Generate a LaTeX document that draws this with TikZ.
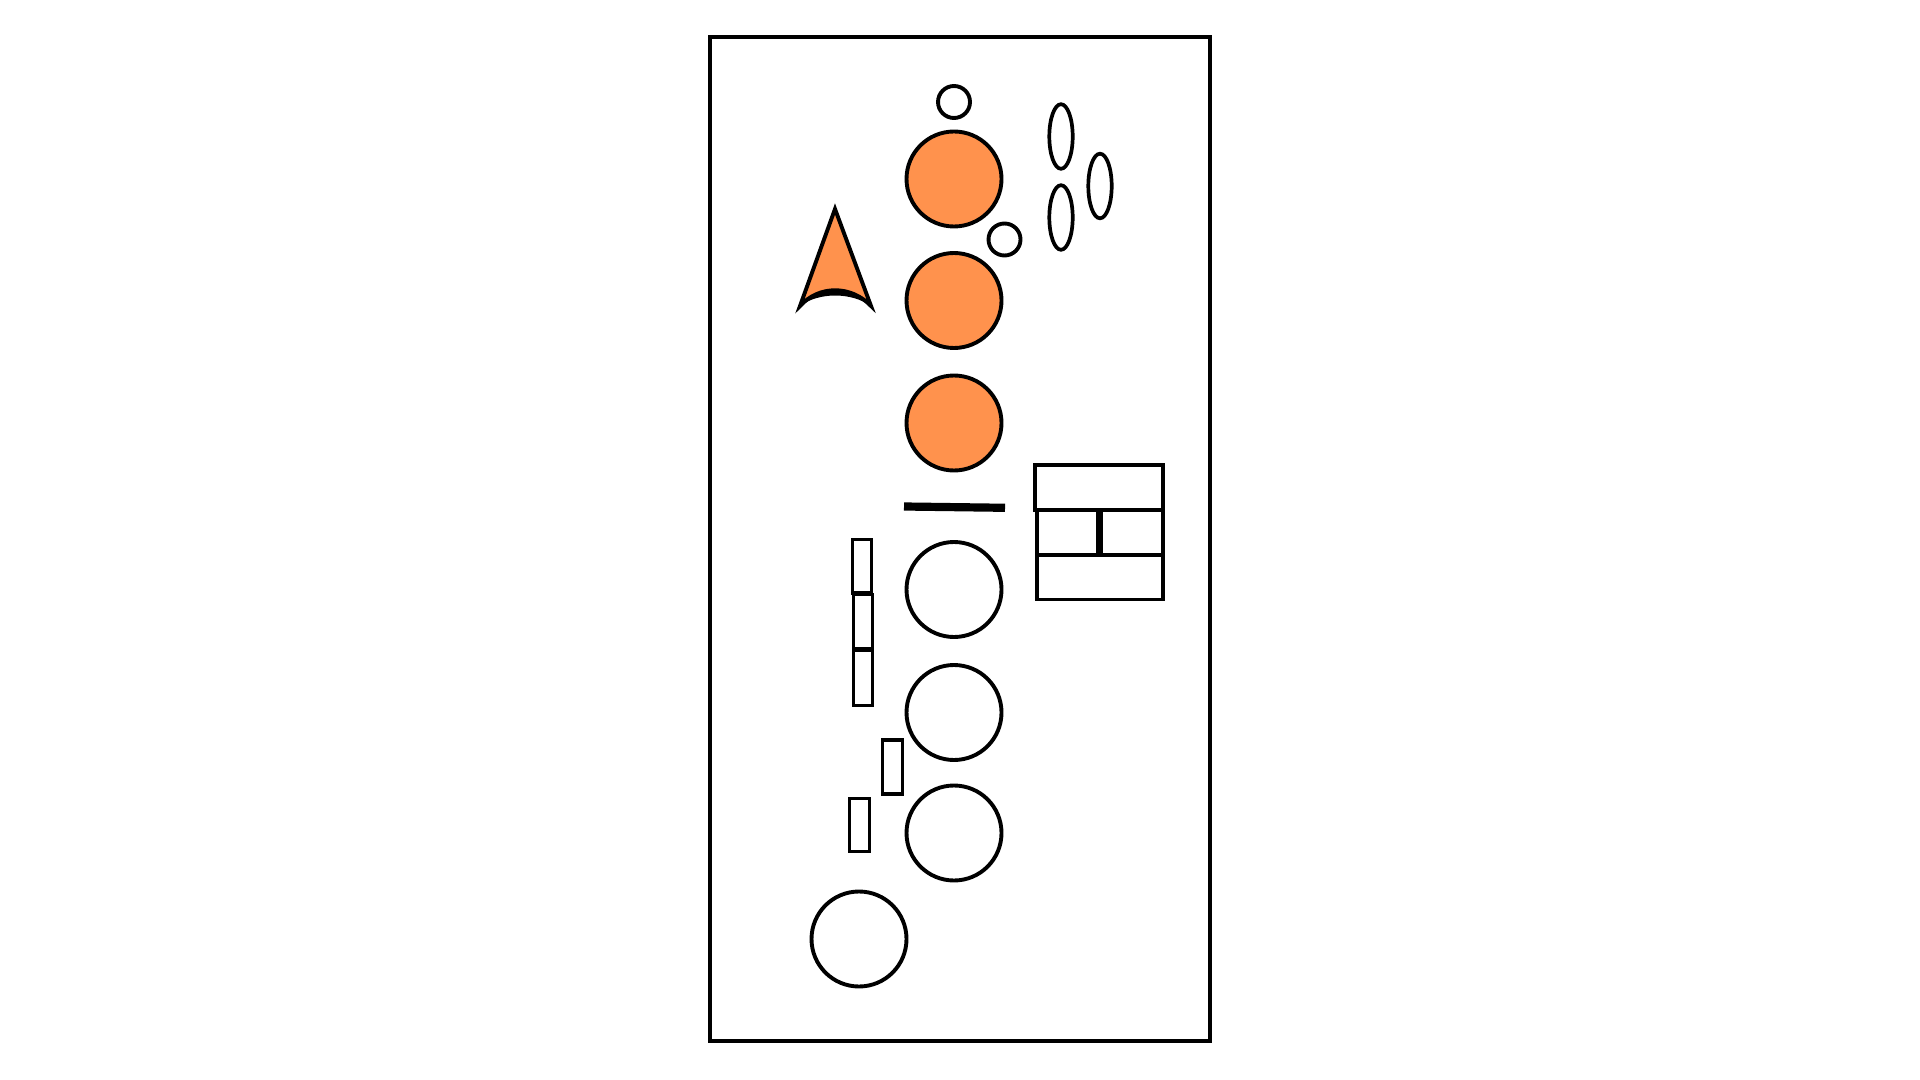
\documentclass[tikz,border=0pt]{standalone}
\definecolor{orangefill}{RGB}{255,146,77}
\begin{document}
\begin{tikzpicture}[x=0.5pt,y=-0.5pt,
  lw/.style={line width=1.95pt},
  thinlw/.style={line width=1.85pt},
  orangeshape/.style={lw,draw=black,fill=orangefill},
  whiteshape/.style={lw,draw=black,fill=white},
  boxshape/.style={thinlw,draw=black}]
\useasboundingbox (0,0) rectangle (1920,1080);
% frame
\draw[line width=2.1pt] (710,37) rectangle (1210,1041);
% small circles
\draw[whiteshape] (954,102) circle[radius=16];
\draw[whiteshape] (1004.5,239.5) circle[radius=16];
% orange circles
\draw[orangeshape] (954,179) circle[radius=47.5];
\draw[orangeshape] (954,300.5) circle[radius=47.5];
\draw[orangeshape] (954,423) circle[radius=47.5];
% ellipses
\draw[thinlw] (1061,136.5) ellipse[x radius=11.7,y radius=32.3];
\draw[thinlw] (1061,217.5) ellipse[x radius=11.7,y radius=32.3];
\draw[thinlw] (1100,186) ellipse[x radius=11.7,y radius=32.3];
% triangle with concave base
\draw[orangeshape,line join=miter] (835,209) -- (871,306) .. controls (851,285) and (819,285) .. (800,306) -- cycle;
\fill[black] (800,306) .. controls (819,284) and (851,284) .. (871,306) .. controls (851,292) and (819,292) .. (800,306) -- cycle;
% thick line
\draw[line width=4.1pt] (904,506.5) -- (1005,507.8);
% grid box
\draw[boxshape] (1035,465) rectangle (1163,510);
\draw[boxshape] (1037,510) rectangle (1098,555);
\draw[boxshape] (1101,510) rectangle (1163,555);
\draw[boxshape] (1037,555) rectangle (1163,599.5);
% white circles
\draw[whiteshape] (954,589.5) circle[radius=47.5];
\draw[whiteshape] (954,712.5) circle[radius=47.5];
\draw[whiteshape] (954,833) circle[radius=47.5];
\draw[whiteshape] (859,939) circle[radius=47.5];
% small rects
\draw[boxshape] (852.5,539.5) rectangle (871.5,593);
\draw[boxshape] (853.5,594.5) rectangle (872.5,649);
\draw[boxshape] (853.5,650.5) rectangle (872.5,705.5);
\draw[boxshape] (882.5,740) rectangle (902.5,794);
\draw[boxshape] (849.5,798.5) rectangle (869.5,851.5);
\end{tikzpicture}
\end{document}
